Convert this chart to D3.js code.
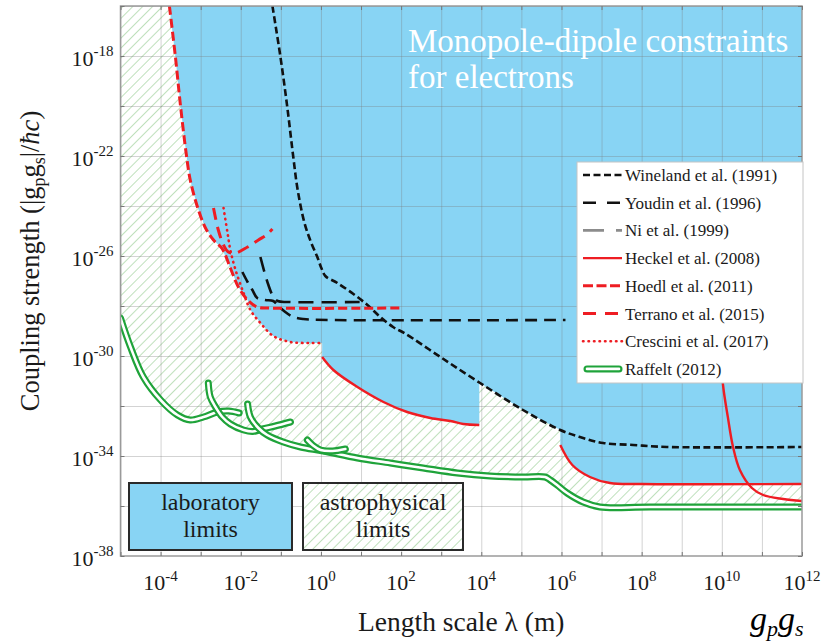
<!DOCTYPE html>
<html>
<head>
<meta charset="utf-8">
<script src="https://cdn.jsdelivr.net/npm/d3@7"></script>
</head>
<body style="margin:0">
<svg id="chart" width="827" height="641" font-family="Liberation Serif"></svg>
<script>
// All curve points are [log10 λ (m), log10 |g_p g_s|/ħc]
const xTickExps = [-4, -2, 0, 2, 4, 6, 8, 10, 12];
const yTickExps = [-18, -22, -26, -30, -34, -38];

const wineland = [[-1.21,-16.0],[-1.01,-18.04],[-0.84,-20.04],[-0.69,-22.04],[-0.58,-23.36],[-0.41,-24.68],
  [-0.24,-25.48],[-0.09,-26.04],[0.01,-26.48],[0.11,-26.8],[0.41,-27.08],[0.81,-27.52],[1.16,-27.96],
  [1.48,-28.44],[1.8,-28.84],[2.1,-29.1],[2.98,-30.04],[3.97,-31.08],[5.04,-32.16],[5.97,-32.96],
  [6.54,-33.28],[7.04,-33.48],[7.79,-33.56],[8.63,-33.64],[12,-33.64]];
const youdinA = [[-1.51,-26.04],[-1.41,-26.64],[-1.31,-27.16],[-1.21,-27.56],[-1.08,-27.8],[-0.8,-27.84],[0.98,-27.84]];
const youdinB = [[-1.96,-26.64],[-1.83,-27.04],[-1.71,-27.36],[-1.59,-27.68],[-1.39,-27.76],[-1.19,-27.8],
  [-1.06,-28.0],[-0.89,-28.24],[-0.69,-28.44],[-0.44,-28.52],[0.24,-28.56],[6.1,-28.56]];
const hoedl = [[-3.78,-16],[-3.63,-18.04],[-3.5,-20.04],[-3.35,-22.04],[-3.26,-22.96],[-3.08,-24.04],
  [-2.88,-24.88],[-2.68,-25.36],[-2.46,-25.72],[-2.26,-26.48],[-2.06,-27.24],[-1.83,-27.76],
  [-1.59,-28.04],[-1.3,-28.08],[2.05,-28.08]];
const terrano = [[-2.68,-24.08],[-2.56,-24.96],[-2.43,-25.56],[-2.31,-25.84],[-2.13,-25.88],
  [-1.83,-25.64],[-1.56,-25.36],[-1.36,-25.16],[-1.21,-24.92]];
const crescini = [[-2.43,-24.08],[-2.33,-25.08],[-2.26,-25.76],[-2.13,-26.56],[-1.93,-27.48],
  [-1.76,-28.16],[-1.51,-28.68],[-1.19,-29.2],[-0.76,-29.44],[-0.3,-29.48],[0.03,-29.48]];
const heckel1 = [[0.03,-30.04],[0.31,-30.56],[0.91,-31.24],[1.56,-31.84],[2.15,-32.24],[2.73,-32.48],
  [3.23,-32.6],[3.55,-32.72],[3.95,-32.76]];
const heckel2 = [[5.97,-33.56],[6.27,-34.36],[6.71,-34.84],[7.21,-35.08],[8.0,-35.12],[12,-35.12]];
const heckel3 = [[9.96,-29.4],[10.03,-31.16],[10.15,-32.44],[10.28,-33.64],[10.45,-34.56],[10.75,-35.28],
  [11.03,-35.56],[11.53,-35.72],[12,-35.8]];
const raffelt1 = [[-5,-28.48],[-4.75,-29.64],[-4.43,-30.84],[-4.0,-31.76],[-3.58,-32.36],[-3.26,-32.56],
  [-2.93,-32.44],[-2.58,-32.24],[-2.3,-32.2],[-2.04,-32.28]];
const raffelt2 = [[-2.81,-31.08],[-2.76,-31.64],[-2.63,-32.04],[-2.46,-32.44],[-2.26,-32.72],[-1.93,-32.96],
  [-1.7,-33.02],[-1.46,-32.92],[-1.14,-32.8],[-0.76,-32.64]];
const raffelt3 = [[-1.83,-31.92],[-1.76,-32.44],[-1.56,-32.88],[-1.34,-33.16],[-0.94,-33.44],[-0.51,-33.64],
  [0.06,-33.8],[0.91,-34.08],[1.73,-34.28],[2.55,-34.48],[3.4,-34.68],[4.22,-34.8],[5.04,-34.84],
  [5.59,-34.84],[5.72,-34.96],[5.89,-35.16],[6.14,-35.48],[6.54,-35.84],[6.96,-36.04],[8.21,-36.04],[12,-36.04]];
const raffelt4 = [[-0.34,-33.36],[-0.21,-33.56],[-0.01,-33.76],[0.29,-33.8],[0.61,-33.72]];

const legendNames = ["Wineland et al. (1991)", "Youdin et al. (1996)", "Ni et al. (1999)", "Heckel et al. (2008)",
  "Hoedl et al. (2011)", "Terrano et al. (2015)", "Crescini et al. (2017)", "Raffelt (2012)"];

// ---------------------------------------------------------------------------
const FACE = "Liberation Serif";
const RED = "#ee1d23", BLACK = "#111", GREEN = "#1fa33a", BLUE = "#88d4f4", INK = "#1a1a1a";
const styles = {
  "Wineland et al. (1991)": {stroke: BLACK, width: 2.6, dash: "7,3.5", key: "7,3.5"},
  "Youdin et al. (1996)":   {stroke: BLACK, width: 2.6, dash: "15,8", key: "13,11"},
  "Ni et al. (1999)":       {stroke: "#8c8c8c", width: 2.6, dash: "22,10,6,10", key: "21,12,6,60"},
  "Heckel et al. (2008)":   {stroke: RED, width: 2.4, dash: null, key: null},
  "Hoedl et al. (2011)":    {stroke: RED, width: 3, dash: "9,4", key: "10,3.5"},
  "Terrano et al. (2015)":  {stroke: RED, width: 3, dash: "12,7", key: "13,9"},
  "Crescini et al. (2017)": {stroke: RED, width: 2.6, dash: "0.5,5", key: "0.5,5", cap: "round"},
  "Raffelt (2012)":         {double: true}
};

const svg = d3.select("#chart");
const M = {left: 120.5, right: 802, top: 6, bottom: 556};
const x = d3.scaleLog().domain([1e-5, 1e12]).range([M.left, M.right]);
const y = d3.scaleLog().domain([1e-38, 1e-16]).range([M.bottom, M.top]);
const px = p => x(Math.pow(10, p[0]));
const py = p => y(Math.pow(10, p[1]));
const smooth = d3.line().x(px).y(py).curve(d3.curveCatmullRom.alpha(0.5));
const straight = d3.line().x(px).y(py);

const addText = (sel, size, color) => sel.append("text").attr("font-family", FACE)
  .attr("font-size", size).attr("fill", color || INK);

const defs = svg.append("defs");
defs.append("clipPath").attr("id", "plotClip").append("rect")
  .attr("x", M.left).attr("y", M.top).attr("width", M.right - M.left).attr("height", M.bottom - M.top);
defs.append("pattern").attr("id", "hatch").attr("patternUnits", "userSpaceOnUse")
  .attr("width", 7).attr("height", 7).attr("patternTransform", "rotate(45)")
  .append("line").attr("x1", 0).attr("y1", -1).attr("x2", 0).attr("y2", 8)
  .attr("stroke", "#9ccf98").attr("stroke-width", 1.3);

// linear interpolation along a curve, null outside its λ range
function interp(pts, lx) {
  if (lx < pts[0][0] || lx > pts[pts.length - 1][0]) return null;
  for (let i = 1; i < pts.length; i++) {
    const a = pts[i - 1], b = pts[i];
    if (lx <= b[0]) {
      const t = b[0] === a[0] ? 0 : (lx - a[0]) / (b[0] - a[0]);
      return a[1] + t * (b[1] - a[1]);
    }
  }
  return pts[pts.length - 1][1];
}

const plot = svg.append("g").attr("clip-path", "url(#plotClip)");
plot.append("rect").attr("x", M.left).attr("y", M.top)
  .attr("width", M.right - M.left).attr("height", M.bottom - M.top).attr("fill", "#fff");

// astrophysical exclusion: everything above the lowest Raffelt branch
const raffelt = [raffelt1, raffelt2, raffelt3, raffelt4];
const envelope = d3.range(-5, 12.001, 0.02).map(lx => {
  const v = raffelt.map(r => interp(r, lx)).filter(d => d !== null);
  return [lx, d3.min(v)];
});
plot.append("path")
  .attr("d", straight([[-5, -16], ...envelope, [12, -16]]))
  .attr("fill", "url(#hatch)");

// laboratory exclusion, bounded by the lab curves
const wAt = lx => interp(wineland, lx);
const h1End = heckel1[heckel1.length - 1][0];
const labEdge = [
  ...hoedl.filter(p => p[1] >= -27.8),
  ...crescini.filter(p => p[1] <= -28.1),
  ...heckel1,
  [h1End, wAt(h1End)],
  ...wineland.filter(p => p[0] > h1End && p[0] < heckel2[0][0]),
  [heckel2[0][0], wAt(heckel2[0][0])],
  ...heckel2,
  [12, -16]
];
plot.append("path").attr("d", straight(labEdge)).attr("fill", BLUE);

// grid
plot.append("g").attr("transform", `translate(0,${M.bottom})`)
  .call(d3.axisBottom(x).tickValues(d3.range(-5, 13).map(e => Math.pow(10, e)))
    .tickSize(-(M.bottom - M.top)).tickFormat(""))
  .call(g => g.select(".domain").remove())
  .call(g => g.selectAll("text").remove())
  .selectAll("line").attr("stroke", "rgba(120,120,120,0.33)").attr("stroke-width", 1);
plot.append("g").attr("transform", `translate(${M.left},0)`)
  .call(d3.axisLeft(y).tickValues(d3.range(-38, -15, 2).map(e => Math.pow(10, e)))
    .tickSize(-(M.right - M.left)).tickFormat(""))
  .call(g => g.select(".domain").remove())
  .call(g => g.selectAll("text").remove())
  .selectAll("line").attr("stroke", "rgba(120,120,120,0.33)").attr("stroke-width", 1);

// constraint curves
function drawCurve(pts, name, dash) {
  const s = styles[name];
  plot.append("path").attr("d", smooth(pts)).attr("fill", "none")
    .attr("stroke", s.stroke).attr("stroke-width", s.width)
    .attr("stroke-dasharray", dash || s.dash)
    .attr("stroke-linecap", s.cap || "butt");
}
drawCurve(heckel1, "Heckel et al. (2008)");
drawCurve(heckel2, "Heckel et al. (2008)");
drawCurve(heckel3, "Heckel et al. (2008)");
drawCurve(wineland, "Wineland et al. (1991)");
drawCurve(youdinA, "Youdin et al. (1996)");
drawCurve(youdinB, "Youdin et al. (1996)", "12,7");
drawCurve(terrano, "Terrano et al. (2015)");
drawCurve(hoedl, "Hoedl et al. (2011)");
drawCurve(crescini, "Crescini et al. (2017)");

raffelt.forEach(r => {
  plot.append("path").attr("d", smooth(r)).attr("fill", "none")
    .attr("stroke", GREEN).attr("stroke-width", 7).attr("stroke-linecap", "round");
  plot.append("path").attr("d", smooth(r)).attr("fill", "none")
    .attr("stroke", "#fff").attr("stroke-width", 2.6).attr("stroke-linecap", "round");
});

// frame and inward ticks
svg.append("rect").attr("x", M.left).attr("y", M.top)
  .attr("width", M.right - M.left).attr("height", M.bottom - M.top)
  .attr("fill", "none").attr("stroke", "#9a9a9a").attr("stroke-width", 1.5);
const decades = d3.range(-5, 13).map(e => Math.pow(10, e));
const yEven = d3.range(-38, -15, 2).map(e => Math.pow(10, e));
svg.append("g").attr("transform", `translate(0,${M.top})`)
  .call(d3.axisTop(x).tickValues(decades).tickSize(-4).tickFormat(""))
  .call(g => g.select(".domain").remove())
  .call(g => g.selectAll("text").remove())
  .selectAll("line").attr("stroke", "#777");
svg.append("g").attr("transform", `translate(${M.right},0)`)
  .call(d3.axisRight(y).tickValues(yEven).tickSize(-4).tickFormat(""))
  .call(g => g.select(".domain").remove())
  .call(g => g.selectAll("text").remove())
  .selectAll("line").attr("stroke", "#777");

// x axis: inward ticks from the axis, labels 10^n at the even decades
const xAxis = svg.append("g").attr("transform", `translate(0,${M.bottom})`)
  .call(d3.axisBottom(x).tickValues(decades).tickSize(-4).tickFormat(""));
xAxis.select(".domain").remove();
xAxis.selectAll("text").remove();
xAxis.selectAll("line").attr("stroke", "#777");
xTickExps.forEach(e => {
  const t = addText(svg, 22).attr("x", x(Math.pow(10, e))).attr("y", M.bottom + 34)
    .attr("text-anchor", "middle");
  t.append("tspan").text("10");
  t.append("tspan").attr("dy", -9).attr("font-size", 15).text(e);
});

// y axis
const yAxis = svg.append("g").attr("transform", `translate(${M.left},0)`)
  .call(d3.axisLeft(y).tickValues(yEven).tickSize(-4).tickFormat(""));
yAxis.select(".domain").remove();
yAxis.selectAll("text").remove();
yAxis.selectAll("line").attr("stroke", "#777");
yTickExps.forEach(e => {
  const t = addText(svg, 22).attr("x", M.left - 7).attr("y", y(Math.pow(10, e)) + 10)
    .attr("text-anchor", "end");
  t.append("tspan").text("10");
  t.append("tspan").attr("dy", -10).attr("font-size", 15).text(e);
});

// axis titles
addText(svg, 27.5).attr("x", (M.left + M.right) / 2).attr("y", 631)
  .attr("text-anchor", "middle").text("Length scale λ (m)");
const yt = addText(svg, 26.5).attr("transform", "translate(39,261) rotate(-90)")
  .attr("text-anchor", "middle");
yt.append("tspan").text("Coupling strength (|g");
yt.append("tspan").attr("dy", 6).attr("font-size", 18).text("p");
yt.append("tspan").attr("dy", -6).text("g");
yt.append("tspan").attr("dy", 6).attr("font-size", 18).text("s");
yt.append("tspan").attr("dy", -6).text("|/");
yt.append("tspan").attr("font-style", "italic").text("ħc");
yt.append("tspan").text(")");

// in-plot title
addText(svg, 33, "#fff").attr("x", 408).attr("y", 52).text("Monopole-dipole constraints");
addText(svg, 33, "#fff").attr("x", 408).attr("y", 88).text("for electrons");

// region key boxes
const keyBoxes = [
  {x: 129, w: 163, fill: BLUE, lines: ["laboratory", "limits"]},
  {x: 303, w: 160, fill: "url(#hatch)", lines: ["astrophysical", "limits"]}
];
keyBoxes.forEach(b => {
  if (b.fill.startsWith("url")) {
    svg.append("rect").attr("x", b.x).attr("y", 483).attr("width", b.w).attr("height", 67).attr("fill", "#fff");
  }
  svg.append("rect").attr("x", b.x).attr("y", 483).attr("width", b.w).attr("height", 67)
    .attr("fill", b.fill).attr("stroke", "#2a2a2a").attr("stroke-width", 2);
  b.lines.forEach((l, i) => addText(svg, 24).attr("x", b.x + b.w / 2).attr("y", 510 + i * 27)
    .attr("text-anchor", "middle").text(l));
});

// legend
const lg = svg.append("g");
lg.append("rect").attr("x", 577).attr("y", 162).attr("width", 226).attr("height", 221)
  .attr("fill", "#fff").attr("stroke", "#c4c4c4").attr("stroke-width", 1);
legendNames.forEach((name, i) => {
  const cy = 175 + i * 27.7;
  const s = styles[name];
  if (s.double) {
    lg.append("line").attr("x1", 587).attr("x2", 619).attr("y1", cy).attr("y2", cy)
      .attr("stroke", GREEN).attr("stroke-width", 7).attr("stroke-linecap", "round");
    lg.append("line").attr("x1", 587).attr("x2", 619).attr("y1", cy).attr("y2", cy)
      .attr("stroke", "#fff").attr("stroke-width", 2.6).attr("stroke-linecap", "round");
  } else {
    lg.append("line").attr("x1", 583).attr("x2", 622).attr("y1", cy).attr("y2", cy)
      .attr("stroke", s.stroke).attr("stroke-width", s.width)
      .attr("stroke-dasharray", s.key).attr("stroke-linecap", s.cap || "butt");
  }
  addText(lg, 17).attr("x", 625).attr("y", cy + 6).text(name);
});

// page caption fragment below the figure
const cap = addText(svg, 34, "#000").attr("x", 750).attr("y", 630).attr("font-style", "italic");
cap.append("tspan").text("g");
cap.append("tspan").attr("dy", 6).attr("font-size", 22).text("p");
cap.append("tspan").attr("dy", -6).text("g");
cap.append("tspan").attr("dy", 6).attr("font-size", 22).text("s");
</script>
</body>
</html>
